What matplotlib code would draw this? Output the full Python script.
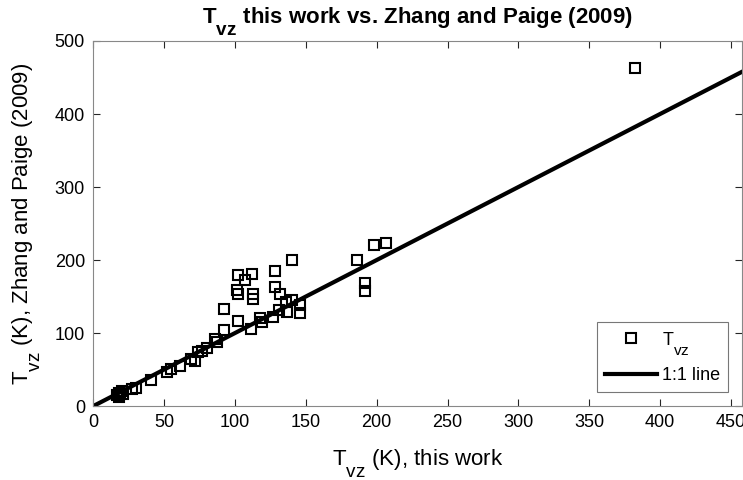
import numpy as np
import matplotlib
matplotlib.use("Agg")
from matplotlib import pyplot as plt
import matplotlib._mathtext as mt

# T_vz values (K)
tvz_this_work = [17, 18, 19, 20, 21, 18, 27, 30, 40.5, 52, 55, 61, 69, 71.5, 74, 77, 80,
                 86, 87, 92, 92, 102, 102, 101.7, 102, 107, 112, 113, 113, 111, 118, 119,
                 127, 128.6, 128.6, 132, 131, 136, 137, 140, 140, 146, 146,
                 186.4, 192, 192, 198, 206.7, 382]
tvz_zhang = [15, 18, 16, 20, 17, 13, 23, 25, 35.5, 46, 51, 55, 65, 62, 74, 76, 80,
             92, 88, 104, 133, 117, 179, 159, 154, 172, 181, 154, 147, 106, 121, 115,
             122, 184.5, 163, 154, 131, 142, 129, 200, 145, 138, 127,
             200.5, 168, 157, 221, 224, 463]
one_to_one = [0, 480]

# MATLAB-like subscripts: bigger and lower than mathtext default
mt.SHRINK_FACTOR = 0.85
mt.FontConstantsBase.sub1 = 1.0
mt.FontConstantsBase.subdrop = 0.8

plt.rcParams['font.family'] = ['Liberation Sans', 'DejaVu Sans']
plt.rcParams['mathtext.fontset'] = 'custom'
plt.rcParams['mathtext.rm'] = 'Liberation Sans'
plt.rcParams['mathtext.it'] = 'Liberation Sans'
plt.rcParams['mathtext.bf'] = 'Liberation Sans:bold'

axcol = '#262626'
fig = plt.figure(figsize=(7.43, 4.8), dpi=100)
ax = fig.add_axes([0.1255, 0.154, 0.8735, 0.7606])

ax.plot(tvz_this_work, tvz_zhang, 's', markersize=7.5, markerfacecolor='none',
        markeredgecolor='black', markeredgewidth=1.5, label=r'$\mathrm{T}_{\mathrm{vz}}$')
ax.plot(one_to_one, one_to_one, '-', color='black', linewidth=3, label='1:1 line')

ax.set_xlim(0, 458)
ax.set_ylim(0, 500)
ax.set_xticks(np.arange(0, 451, 50))
ax.set_yticks(np.arange(0, 501, 100))
ax.tick_params(direction='in', top=True, right=True, length=5, width=0.8,
               labelsize=13, colors=axcol, labelcolor='black', pad=6)
for s in ax.spines.values():
    s.set_color('#888888')
    s.set_linewidth(0.8)

ax.set_xlabel(r'$\mathrm{T}_{\mathrm{vz}}$ (K), this work', fontsize=16, labelpad=11)
ax.set_ylabel(r'$\mathrm{T}_{\mathrm{vz}}$ (K), Zhang and Paige (2009)', fontsize=16, labelpad=9)
ax.set_title(r'$\mathbf{T}_{\mathbf{vz}}$ this work vs. Zhang and Paige (2009)',
             fontsize=16, fontweight='bold', pad=13)

leg = ax.legend(loc='lower right', fontsize=13, frameon=True, fancybox=False,
                borderaxespad=0.8, handlelength=2.9, handletextpad=0.3,
                borderpad=0.4, labelspacing=0.6, markerfirst=True)
leg.get_frame().set_edgecolor('#555555')
leg.get_frame().set_linewidth(0.8)

plt.savefig('out.png', dpi=100)
plt.close()
